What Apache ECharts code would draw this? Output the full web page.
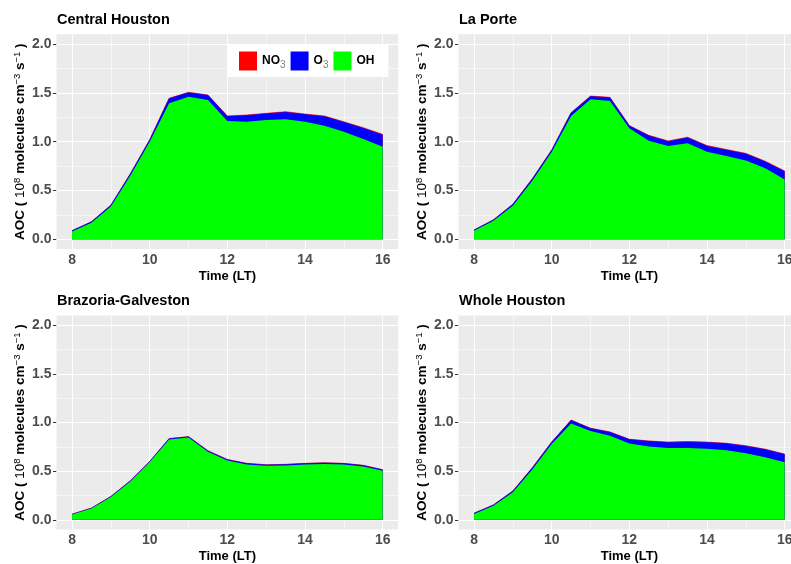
<!DOCTYPE html>
<html>
<head>
<meta charset="utf-8">
<script src="https://cdn.jsdelivr.net/npm/echarts@6/dist/echarts.min.js"></script>
<style>
  html, body { margin: 0; padding: 0; background: #ffffff; overflow: hidden; }
  #chart { width: 812px; height: 564px; }
</style>
</head>
<body>
<div id="chart"></div>
<script>
// Local time (hours), half-hourly
const hours = [8, 8.5, 9, 9.5, 10, 10.5, 11, 11.5, 12, 12.5, 13, 13.5, 14, 14.5, 15, 15.5, 16];

// Tick and grid positions
const xTicks = [8, 10, 12, 14, 16];
const xMinor = [9, 11, 13, 15];
const yTicks = [0, 0.5, 1, 1.5, 2];
const yMinor = [0.25, 0.75, 1.25, 1.75];

const regions = ['Central Houston', 'La Porte', 'Brazoria-Galveston', 'Whole Houston'];

// AOC contributions (10^8 molecules cm^-3 s^-1)
const centralOH  = [0.080, 0.170, 0.335, 0.650, 1.000, 1.393, 1.460, 1.427, 1.211, 1.204, 1.222, 1.229, 1.204, 1.163, 1.102, 1.027, 0.948];
const centralO3  = [0.008, 0.009, 0.013, 0.018, 0.017, 0.048, 0.041, 0.047, 0.048, 0.064, 0.063, 0.072, 0.073, 0.094, 0.096, 0.110, 0.121];
const centralNO3 = [0.001, 0.001, 0.002, 0.002, 0.003, 0.003, 0.004, 0.004, 0.004, 0.005, 0.005, 0.006, 0.006, 0.006, 0.006, 0.006, 0.006];

const laporteOH  = [0.088, 0.190, 0.345, 0.600, 0.895, 1.263, 1.434, 1.416, 1.137, 1.010, 0.955, 0.983, 0.897, 0.852, 0.806, 0.727, 0.612];
const laporteO3  = [0.007, 0.009, 0.013, 0.018, 0.017, 0.031, 0.029, 0.034, 0.024, 0.050, 0.047, 0.057, 0.057, 0.062, 0.068, 0.067, 0.082];
const laporteNO3 = [0.001, 0.001, 0.002, 0.002, 0.003, 0.003, 0.004, 0.004, 0.004, 0.005, 0.005, 0.006, 0.006, 0.006, 0.006, 0.006, 0.006];

const brazoriaOH  = [0.054, 0.115, 0.234, 0.393, 0.593, 0.825, 0.845, 0.700, 0.610, 0.569, 0.555, 0.559, 0.569, 0.574, 0.568, 0.548, 0.503];
const brazoriaO3  = [0.003, 0.004, 0.005, 0.006, 0.006, 0.008, 0.008, 0.008, 0.008, 0.009, 0.009, 0.009, 0.009, 0.010, 0.010, 0.010, 0.010];
const brazoriaNO3 = [0.001, 0.001, 0.001, 0.001, 0.001, 0.002, 0.002, 0.002, 0.002, 0.002, 0.002, 0.002, 0.002, 0.002, 0.002, 0.002, 0.002];

const wholeOH  = [0.060, 0.143, 0.283, 0.518, 0.780, 0.991, 0.913, 0.864, 0.784, 0.754, 0.739, 0.737, 0.731, 0.714, 0.684, 0.644, 0.592];
const wholeO3  = [0.007, 0.009, 0.012, 0.015, 0.018, 0.031, 0.026, 0.036, 0.041, 0.053, 0.056, 0.063, 0.064, 0.069, 0.073, 0.078, 0.080];
const wholeNO3 = [0.001, 0.001, 0.001, 0.002, 0.002, 0.003, 0.003, 0.003, 0.003, 0.004, 0.004, 0.004, 0.004, 0.004, 0.004, 0.004, 0.004];

const regionData = [
  { oh: centralOH,  o3: centralO3,  no3: centralNO3 },
  { oh: laporteOH,  o3: laporteO3,  no3: laporteNO3 },
  { oh: brazoriaOH, o3: brazoriaO3, no3: brazoriaNO3 },
  { oh: wholeOH,    o3: wholeO3,    no3: wholeNO3 }
];

// Panel boxes (pixels); the right column runs past the visible page edge
const panels = [
  { left: 56.5,  top: 34.2,  width: 341.7, height: 214.9 },
  { left: 458.5, top: 34.2,  width: 341.7, height: 214.9 },
  { left: 56.5,  top: 315.5, width: 341.7, height: 215.3 },
  { left: 458.5, top: 315.5, width: 341.7, height: 215.3 }
];
const titleTops = [12, 12, 293, 293];

const FONT = "'Liberation Sans', Arial, Helvetica, sans-serif";
const COLORS = { NO3: '#FF0000', O3: '#0000FF', OH: '#00FF00' };

const yName = '{b|AOC ( }{r|10}{sup|8}{b| molecules cm}{sup|\u22123}{b| s}{sup|\u22121}{b| )}';
const yNameRich = {
  b:   { fontFamily: FONT, fontSize: 13.5, fontWeight: 'bold', color: '#000', lineHeight: 16 },
  r:   { fontFamily: FONT, fontSize: 13.5, fontWeight: 'normal', color: '#000', lineHeight: 16 },
  sup: { fontFamily: FONT, fontSize: 9.5, fontWeight: 'normal', color: '#000', lineHeight: 10, verticalAlign: 'top' }
};

const tickLabelStyle = { fontFamily: FONT, fontSize: 14, fontWeight: 'bold', color: '#4D4D4D' };

const grids = [], xAxes = [], yAxes = [], series = [], titles = [];

panels.forEach((p, i) => {
  grids.push({
    left: p.left, top: p.top, width: p.width, height: p.height,
    show: true, backgroundColor: '#EBEBEB', borderWidth: 0, containLabel: false
  });
  titles.push({
    text: regions[i], left: p.left + 0.5, top: titleTops[i], padding: 0,
    textStyle: { fontFamily: FONT, fontSize: 14.5, fontWeight: 'bold', color: '#000' }
  });
  xAxes.push({
    gridIndex: i, type: 'value', min: 7.6, max: 16.4,
    axisLine: { show: false },
    axisTick: { show: true, customValues: xTicks, length: 3.5, lineStyle: { color: '#333', width: 1 } },
    axisLabel: Object.assign({ customValues: xTicks, margin: 4 }, tickLabelStyle),
    splitLine: { show: false },
    name: 'Time (LT)', nameLocation: 'middle', nameGap: 20.5,
    nameTextStyle: { fontFamily: FONT, fontSize: 13, fontWeight: 'bold', color: '#000' }
  });
  yAxes.push({
    gridIndex: i, type: 'value', min: -0.1, max: 2.1,
    axisLine: { show: false },
    axisTick: { show: true, customValues: yTicks, length: 3.5, lineStyle: { color: '#333', width: 1 } },
    axisLabel: Object.assign({ customValues: yTicks, margin: 5, formatter: v => v.toFixed(1) }, tickLabelStyle),
    splitLine: { show: false },
    name: yName, nameLocation: 'middle', nameRotate: 90, nameGap: 28.5,
    nameTextStyle: { rich: yNameRich }
  });

  // White panel grid lines, drawn under the areas
  const gridLineData = []
    .concat(xTicks.map(v => ({ xAxis: v, lineStyle: { width: 1.1 } })))
    .concat(yTicks.map(v => ({ yAxis: v, lineStyle: { width: 1.1 } })))
    .concat(xMinor.map(v => ({ xAxis: v, lineStyle: { width: 0.55 } })))
    .concat(yMinor.map(v => ({ yAxis: v, lineStyle: { width: 0.55 } })));
  series.push({
    type: 'line', xAxisIndex: i, yAxisIndex: i, data: [], z: 1, silent: true,
    markLine: {
      silent: true, z: 1, symbol: ['none', 'none'], animation: false,
      label: { show: false },
      lineStyle: { color: '#FFFFFF', type: 'solid' },
      emphasis: { disabled: true },
      data: gridLineData
    }
  });

  // Cumulative layers: OH at the bottom, O3 above it, NO3 on top
  const d = regionData[i];
  const topOH = d.oh.slice();
  const topO3 = d.oh.map((v, k) => v + d.o3[k]);
  const topNO3 = topO3.map((v, k) => v + d.no3[k]);
  const layers = [
    { name: 'NO3', vals: topNO3, z: 2, lw: 0.6 },
    { name: 'O3',  vals: topO3,  z: 3, lw: 0.6 },
    { name: 'OH',  vals: topOH,  z: 4, lw: 0 }
  ];
  layers.forEach(L => {
    series.push({
      name: L.name, type: 'line', xAxisIndex: i, yAxisIndex: i, z: L.z,
      data: hours.map((h, k) => [h, L.vals[k]]),
      showSymbol: false, symbol: 'none', silent: true,
      itemStyle: { color: COLORS[L.name] },
      lineStyle: { color: COLORS[L.name], width: L.lw, opacity: L.lw > 0 ? 1 : 0 },
      areaStyle: { color: COLORS[L.name], opacity: 1 },
      emphasis: { disabled: true }
    });
  });
});

const legendMain = { fontFamily: FONT, fontSize: 12, fontWeight: 'bold', color: '#000', lineHeight: 16 };
const legendSub = { fontFamily: FONT, fontSize: 10, fontWeight: 'normal', color: '#7F7F7F', lineHeight: 10, padding: [8, 0, 0, 0] };

const option = {
  animation: false,
  backgroundColor: '#FFFFFF',
  title: titles,
  legend: {
    data: ['NO3', 'O3', 'OH'],
    left: 227, top: 45, orient: 'horizontal',
    backgroundColor: '#FFFFFF',
    padding: [6.5, 14, 6.5, 12],
    itemWidth: 18, itemHeight: 19, itemGap: 5,
    icon: 'rect', selectedMode: false,
    formatter: n => n === 'OH' ? '{m|OH}' : '{m|' + n.slice(0, -1) + '}{s|3}',
    textStyle: { rich: { m: legendMain, s: legendSub } }
  },
  grid: grids,
  xAxis: xAxes,
  yAxis: yAxes,
  series: series
};

const chart = echarts.init(document.getElementById('chart'), null, { renderer: 'canvas' });
chart.setOption(option);
</script>
</body>
</html>
